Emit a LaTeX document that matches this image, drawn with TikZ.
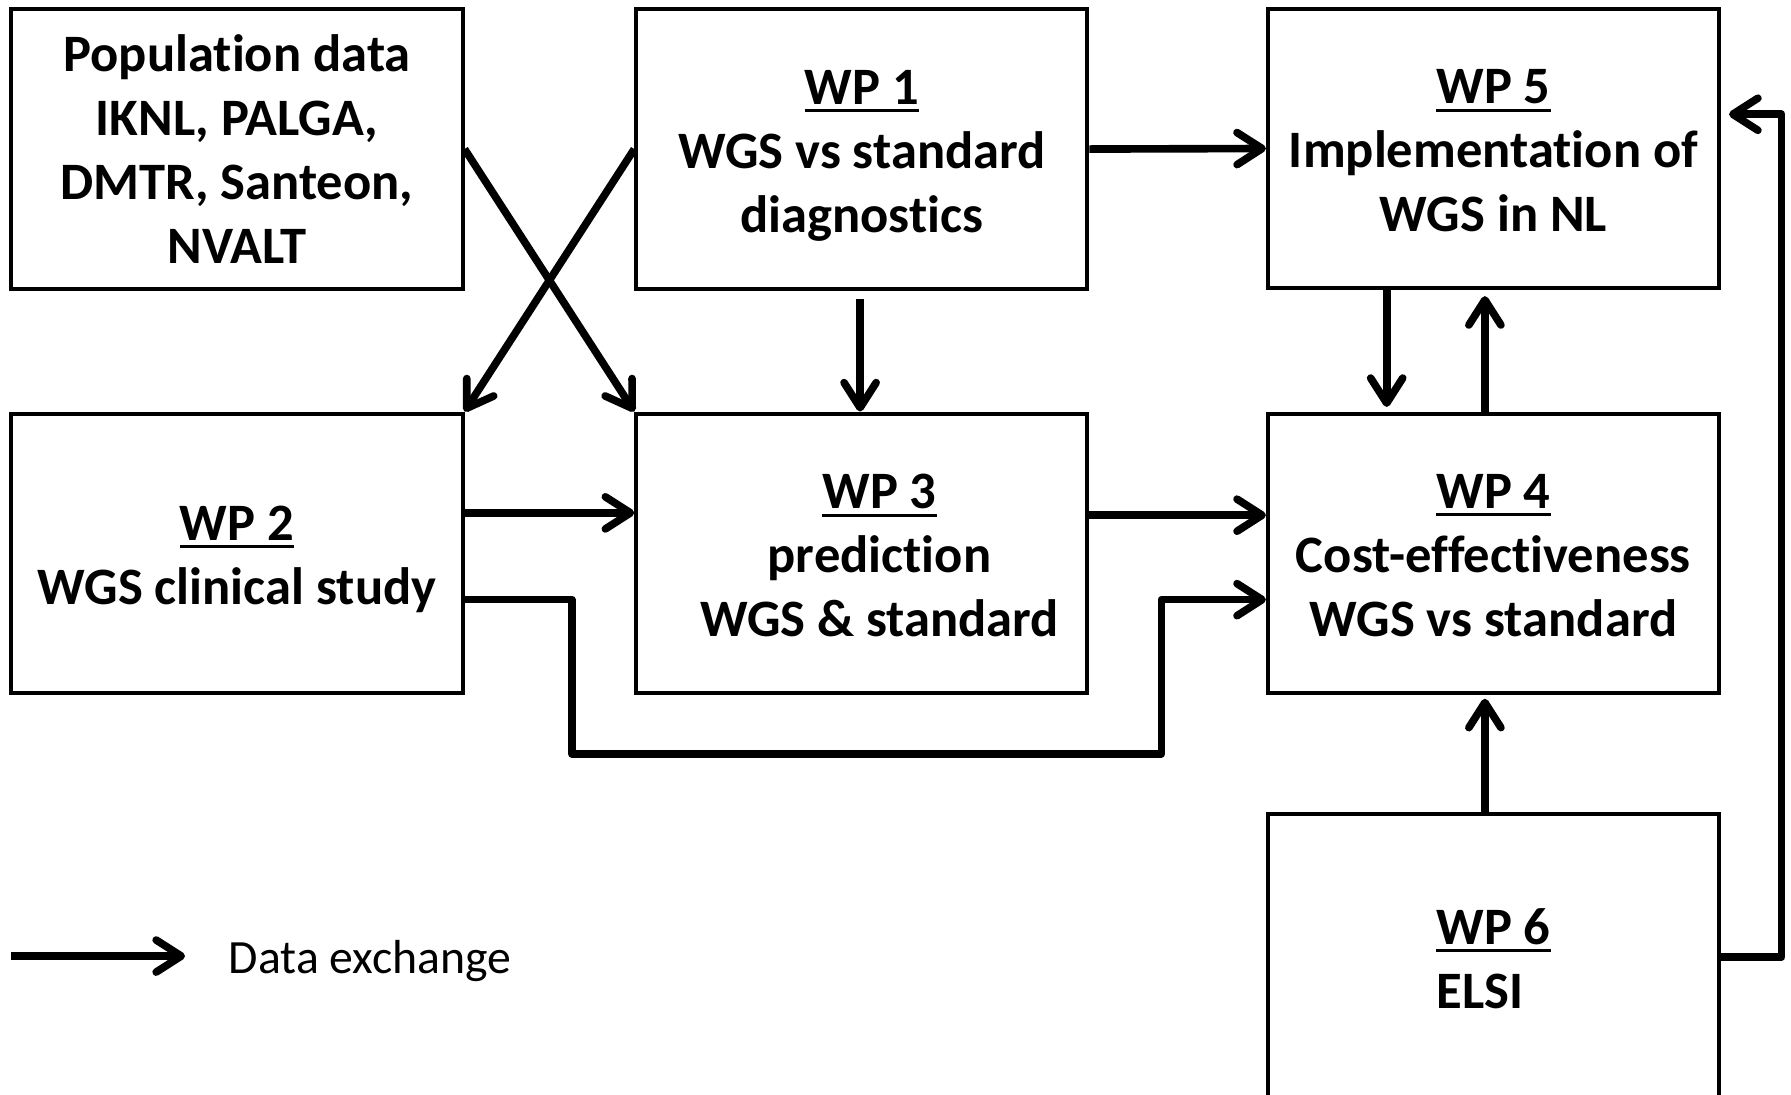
\documentclass[tikz,border=0pt]{standalone}
\usepackage{fontspec}
\setmainfont{Carlito}[Ligatures={NoCommon}]
\usetikzlibrary{arrows.meta}

% underlined title line of a work package, with a fixed line height
\newcommand{\wpul}[1]{\rule{0pt}{19.5pt}\vtop{\hbox{#1}\kern2.2pt\hrule height 1.5pt}}
% last line without descender depth
\newcommand{\nodepth}[1]{\raisebox{0pt}[\height][0pt]{#1}}

\begin{document}
\begin{tikzpicture}[x=0.02cm, y=-0.02cm,
  wpbox/.style={draw, line width=2pt, minimum width=7.9cm, minimum height=4.9cm,
    inner sep=0pt, font=\bfseries\fontsize{26.2}{31.9}\selectfont, align=center},
  flow/.style={line width=3.8pt, line join=round,
    -{Straight Barb[length=12.5pt, width=16pt, line width=3.8pt, round]}}]

\useasboundingbox (0,0) rectangle (1568,958);

% boxes
\node[wpbox] (pop) at (207.5,130.5) {Population data\\IKNL, PALGA,\\DMTR, Santeon,\\NVALT};
\node[wpbox] (wp1) at (754.5,130.5) {\wpul{WP 1}\\WGS vs standard\\\nodepth{diagnostics}};
\node[wpbox] (wp5) at (1307.5,130) {\wpul{WP 5}\\Implementation of\\WGS in NL};
\node[wpbox] (wp2) at (207.5,484.5) {\wpul{WP 2}\\\nodepth{WGS clinical study}};
\node[wpbox] (wp3) at (754.5,484.5)
  {\hspace*{0.62cm}\wpul{WP 3}\\\hspace*{0.62cm}prediction\\\hspace*{0.62cm}WGS \& standard};
\node[wpbox] (wp4) at (1307.5,484.5) {\wpul{WP 4}\\Cost-effectiveness\\WGS vs standard};
\node[wpbox, minimum height=5cm, align=left] (wp6) at (1307.5,838) {\wpul{WP 6}\\ELSI};

% data exchange connectors
\draw[flow] (pop.east) -- (wp3.north west);
\draw[flow] (wp1.west) -- (wp2.north east);
\draw[flow] ([xshift=-0.03cm, yshift=-0.14cm]wp1.south) -- ([xshift=-0.03cm]wp3.north);
\draw[flow] (wp1.east) -- (wp5.west);
\draw[flow] ([yshift=0.71cm]wp2.east) -- ([yshift=0.71cm]wp3.west);
\draw[flow] ([yshift=0.67cm]wp3.east) -- ([yshift=0.67cm]wp4.west);
\draw[flow] ([yshift=-0.81cm]wp2.east) -- ++(94,0) -- ++(0,135) -- ++(516,0)
  |- ([yshift=-0.81cm]wp4.west);
\draw[flow] ([xshift=-1.87cm]wp5.south) -- ([xshift=-1.87cm, yshift=0.08cm]wp4.north);
\draw[flow] ([xshift=-0.15cm]wp4.north) -- ([xshift=-0.15cm, yshift=-0.1cm]wp5.south);
\draw[flow] ([xshift=-0.15cm]wp6.north) -- ([xshift=-0.15cm, yshift=-0.06cm]wp4.south);
\draw[flow] (wp6.east) -- ++(53,0) |- ([xshift=0.14cm, yshift=0.6cm]wp5.east);

% legend
\coordinate (legA) at (10,837);
\coordinate (legB) at (162,837);
\draw[flow] (legA) -- (legB);
\node[anchor=west, inner sep=0pt, font=\fontsize{23.8}{28}\selectfont] (legtext) at (200,841) {Data exchange};
\end{tikzpicture}
\end{document}
